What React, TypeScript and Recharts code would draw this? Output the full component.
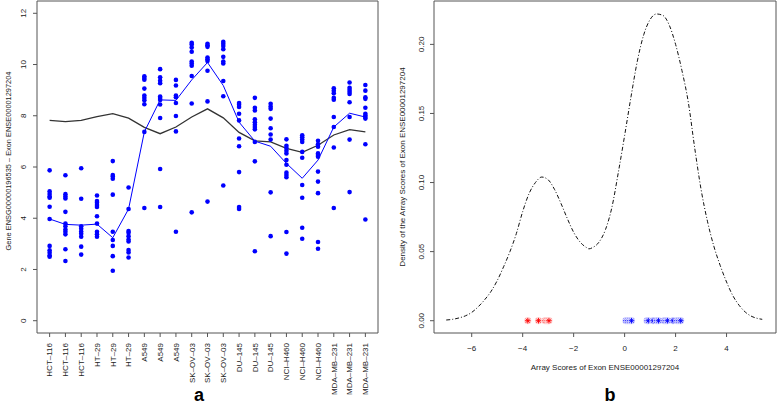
import React from "react";
import {
  ComposedChart,
  Line,
  Scatter,
  XAxis,
  YAxis,
  ReferenceArea,
} from "recharts";

// panel a: cell lines (three arrays each)
const cellLines = [
  "HCT–116", "HCT–116", "HCT–116",
  "HT–29", "HT–29", "HT–29",
  "A549", "A549", "A549",
  "SK–OV–03", "SK–OV–03", "SK–OV–03",
  "DU–145", "DU–145", "DU–145",
  "NCI–H460", "NCI–H460", "NCI–H460",
  "MDA–MB–231", "MDA–MB–231", "MDA–MB–231",
];

const probeValues: number[][] = [
  [5.87, 5.05, 4.95, 4.85, 4.8, 4.45, 3.97, 2.92, 2.75, 2.65, 2.55, 2.5],
  [5.68, 4.94, 4.85, 4.77, 4.25, 3.79, 3.69, 3.56, 3.47, 3.37, 2.79, 2.33],
  [5.95, 4.76, 3.69, 3.59, 3.48, 3.39, 3.28, 2.89, 2.58],
  [4.89, 4.67, 4.6, 4.52, 4.44, 4.08, 3.79, 3.47, 3.37, 3.28],
  [6.23, 5.69, 5.63, 5.54, 4.92, 3.47, 3.15, 2.92, 2.52, 1.95],
  [5.2, 4.36, 3.5, 3.43, 3.3, 3.17, 3.09, 2.76, 2.66, 2.47],
  [9.54, 9.47, 9.41, 9.06, 8.79, 8.7, 8.61, 8.45, 7.37, 4.4],
  [9.82, 9.5, 9.37, 9.27, 8.75, 8.69, 8.62, 8.44, 7.91, 5.92, 4.44],
  [9.4, 9.18, 8.79, 8.72, 8.5, 7.99, 7.39, 3.47],
  [10.85, 10.78, 10.66, 10.5, 10.12, 10.04, 9.95, 9.55, 8.48, 4.23],
  [10.81, 10.75, 10.69, 10.27, 10.21, 10.14, 9.76, 8.56, 4.65],
  [10.89, 10.81, 10.72, 10.6, 10.3, 10.12, 10.04, 9.36, 8.76, 5.28],
  [8.5, 8.43, 8.34, 8.08, 7.82, 7.11, 6.81, 5.8, 4.44, 4.36],
  [8.7, 8.31, 8.21, 7.86, 7.75, 7.65, 7.56, 7.47, 6.98, 6.22, 2.71],
  [8.47, 8.36, 8.27, 7.89, 7.51, 7.27, 7.07, 5.01, 3.3],
  [7.08, 6.83, 6.74, 6.63, 6.53, 6.27, 6.09, 5.78, 5.69, 5.6, 3.46, 2.62],
  [7.24, 7.16, 7.07, 6.98, 6.59, 6.36, 5.3, 4.8, 3.63, 3.2],
  [7.02, 6.89, 6.79, 6.53, 6.47, 6.4, 5.82, 5.43, 4.98, 3.07, 2.81],
  [9.07, 8.98, 8.88, 8.7, 8.63, 7.95, 7.56, 6.76, 4.4],
  [9.3, 9.09, 9.01, 8.93, 8.85, 8.53, 7.95, 7.07, 5.02],
  [9.2, 8.98, 8.72, 8.66, 8.31, 8.08, 8.01, 7.95, 7.89, 6.89, 3.95],
];

const exonLine = [
  3.97, 3.76, 3.73, 3.77, 3.24, 4.36, 7.37, 8.62, 8.6, 9.4, 10.08, 9.18, 7.75,
  7.01, 6.81, 6.14, 5.56, 6.27, 7.56, 8.1, 7.95,
];
const geneLine = [
  7.82, 7.77, 7.82, 7.97, 8.08, 7.91, 7.55, 7.3, 7.56, 7.95, 8.27, 7.92, 7.35,
  7.02, 6.98, 6.73, 6.57, 6.85, 7.25, 7.46, 7.37,
];
const yTicksA = [0, 2, 4, 6, 8, 10, 12];

// panel b: density of array scores
const densityX = [
  -7.0, -6.75, -6.5, -6.25, -6.0, -5.75, -5.5, -5.25, -5.0, -4.75, -4.5, -4.25,
  -4.0, -3.75, -3.5, -3.25, -3.0, -2.75, -2.5, -2.25, -2.0, -1.75, -1.5, -1.4,
  -1.25, -1.0, -0.75, -0.5, -0.25, 0.0, 0.25, 0.5, 0.75, 1.0, 1.25, 1.5, 1.75,
  2.0, 2.25, 2.5, 2.75, 3.0, 3.25, 3.5, 3.75, 4.0, 4.25, 4.5, 4.75, 5.0, 5.25,
  5.4,
];
const densityY = [
  0.0005, 0.001, 0.002, 0.0035, 0.006, 0.01, 0.015, 0.021, 0.029, 0.039, 0.05,
  0.063, 0.079, 0.092, 0.1, 0.104, 0.102, 0.095, 0.085, 0.074, 0.064, 0.057,
  0.053, 0.052, 0.053, 0.057, 0.066, 0.082, 0.107, 0.134, 0.162, 0.188, 0.207,
  0.218, 0.222, 0.221, 0.214, 0.2, 0.181, 0.158, 0.125, 0.095, 0.072, 0.054,
  0.04, 0.028, 0.018, 0.011, 0.006, 0.003, 0.0015, 0.001,
];
const redScores = [-3.8, -3.38, -3.12, -3.05, -3.0, -2.97];
const blueScores = [
  0.05, 0.12, 0.2, 0.27, 0.88, 0.93, 1.12, 1.25, 1.33, 1.55, 1.62, 1.68, 1.9,
  2.05, 2.12, 2.2,
];
const xTicksB = [-6, -4, -2, 0, 2, 4];
const yTicksB = [0, 0.05, 0.1, 0.15, 0.2];

const FONT = "'Liberation Sans', Arial, Helvetica, sans-serif";
const TEXT = "#222";
const FRAME = "#555";

const lineRows = cellLines.map((name, i) => ({
  x: i + 1,
  exon: exonLine[i],
  gene: geneLine[i],
}));
const pointRows = probeValues.flatMap((vals, i) =>
  vals.map((v) => ({ x: i + 1, y: v })),
);
const densityRows = densityX.map((x, i) => ({ x, d: densityY[i] }));
const redRows = redScores.map((x) => ({ x, y: 0 }));
const blueRows = blueScores.map((x) => ({ x, y: 0 }));

const fmtMinus = (v: number, digits: number) =>
  v.toFixed(digits).replace("-", "−");

const Dot = (props: any) => {
  const { cx, cy } = props;
  if (cx == null || cy == null) return null;
  return <circle cx={cx} cy={cy} r={2.3} fill="#0000ff" />;
};

const makeStar = (color: string, halo: string) => (props: any) => {
  const { cx, cy } = props;
  if (cx == null || cy == null) return null;
  const s = 2.8;
  const d = s * 0.72;
  const path = `M${cx - s},${cy}L${cx + s},${cy}M${cx},${cy - s}L${cx},${cy + s}M${cx - d},${cy - d}L${cx + d},${cy + d}M${cx - d},${cy + d}L${cx + d},${cy - d}`;
  return (
    <g>
      <circle cx={cx} cy={cy} r={3.6} fill={halo} />
      <path d={path} stroke={color} strokeWidth={0.9} fill="none" />
    </g>
  );
};

const CatTick = (props: any) => {
  const { x, y, payload } = props;
  const label = cellLines[payload.value - 1] ?? "";
  return (
    <text
      x={x}
      y={y}
      transform={`rotate(-90 ${x} ${y})`}
      textAnchor="end"
      dy="0.35em"
      fontSize={8}
      fontFamily={FONT}
      fill={TEXT}
    >
      {label}
    </text>
  );
};

const RotYTick = (digits: number) => (props: any) => {
  const { x, y, payload } = props;
  return (
    <text
      x={x}
      y={y}
      transform={`rotate(-90 ${x} ${y})`}
      textAnchor="middle"
      fontSize={8}
      fontFamily={FONT}
      fill={TEXT}
    >
      {fmtMinus(payload.value, digits)}
    </text>
  );
};

const NumXTick = (props: any) => {
  const { x, y, payload } = props;
  return (
    <text
      x={x}
      y={y}
      dy="0.71em"
      textAnchor="middle"
      fontSize={8}
      fontFamily={FONT}
      fill={TEXT}
    >
      {fmtMinus(payload.value, 0)}
    </text>
  );
};

export default function App() {
  return (
    <div
      style={{
        position: "absolute",
        left: 0,
        top: 0,
        width: 777,
        height: 406,
        background: "#fff",
        fontFamily: FONT,
      }}
    >
      <div style={{ position: "absolute", left: 0, top: 0 }}>
        <ComposedChart
          width={390}
          height={406}
          data={lineRows}
          margin={{ top: 1, right: 12, bottom: 0, left: 0 }}
        >
          <XAxis
            type="number"
            dataKey="x"
            domain={[0.2, 21.8]}
            ticks={cellLines.map((_, i) => i + 1)}
            interval={0}
            height={73}
            axisLine={false}
            tickSize={4}
            tickMargin={6}
            tickLine={{ stroke: FRAME }}
            tick={<CatTick />}
            allowDataOverflow
          />
          <YAxis
            type="number"
            domain={[-0.48, 12.48]}
            ticks={yTicksA}
            width={37}
            axisLine={false}
            tickSize={4}
            tickMargin={7}
            tickLine={{ stroke: FRAME }}
            tick={RotYTick(0)}
            allowDataOverflow
          />
          <ReferenceArea
            x1={0.2}
            x2={21.8}
            y1={-0.48}
            y2={12.48}
            fill="none"
            stroke={FRAME}
            strokeWidth={1}
            ifOverflow="visible"
          />
          <Scatter
            data={pointRows}
            dataKey="y"
            shape={<Dot />}
            isAnimationActive={false}
          />
          <Line
            dataKey="gene"
            type="linear"
            stroke="#333333"
            strokeWidth={1.3}
            dot={false}
            isAnimationActive={false}
          />
          <Line
            dataKey="exon"
            type="linear"
            stroke="#0000ff"
            strokeWidth={1}
            dot={false}
            isAnimationActive={false}
          />
        </ComposedChart>
      </div>

      <div style={{ position: "absolute", left: 390, top: 0 }}>
        <ComposedChart
          width={387}
          height={406}
          data={densityRows}
          margin={{ top: 1, right: 1, bottom: 0, left: 0 }}
        >
          <XAxis
            type="number"
            dataKey="x"
            domain={[-7.48, 5.94]}
            ticks={xTicksB}
            interval={0}
            height={73}
            axisLine={false}
            tickSize={4}
            tickMargin={8}
            tickLine={{ stroke: FRAME }}
            tick={<NumXTick />}
            allowDataOverflow
          />
          <YAxis
            type="number"
            domain={[-0.0089, 0.2314]}
            ticks={yTicksB}
            width={44}
            axisLine={false}
            tickSize={4}
            tickMargin={6}
            tickLine={{ stroke: FRAME }}
            tick={RotYTick(2)}
            allowDataOverflow
          />
          <ReferenceArea
            x1={-7.48}
            x2={5.94}
            y1={-0.0089}
            y2={0.2314}
            fill="none"
            stroke={FRAME}
            strokeWidth={1}
            ifOverflow="visible"
          />
          <Line
            dataKey="d"
            type="monotone"
            stroke="#111111"
            strokeWidth={1}
            strokeDasharray="4 2 1 2"
            dot={false}
            isAnimationActive={false}
          />
          <Scatter
            data={redRows}
            dataKey="y"
            shape={makeStar("#ff0000", "#ffd6d6")}
            isAnimationActive={false}
          />
          <Scatter
            data={blueRows}
            dataKey="y"
            shape={makeStar("#0000ff", "#d6d6ff")}
            isAnimationActive={false}
          />
        </ComposedChart>
      </div>

      <svg
        width={777}
        height={406}
        style={{ position: "absolute", left: 0, top: 0, pointerEvents: "none" }}
      >
        <text
          x={11}
          y={161}
          transform="rotate(-90 11 161)"
          textAnchor="middle"
          fontSize={7.4}
          fontFamily={FONT}
          fill={TEXT}
        >
          Gene ENSG00000196535 – Exon ENSE00001297204
        </text>
        <text
          x={404.5}
          y={167}
          transform="rotate(-90 404.5 167)"
          textAnchor="middle"
          fontSize={8}
          fontFamily={FONT}
          fill={TEXT}
        >
          Density of the Array Scores of Exon ENSE00001297204
        </text>
        <text
          x={605}
          y={370}
          textAnchor="middle"
          fontSize={8}
          fontFamily={FONT}
          fill={TEXT}
        >
          Array Scores of Exon ENSE00001297204
        </text>
        <text
          x={199}
          y={401}
          textAnchor="middle"
          fontSize={18}
          fontWeight="bold"
          fontFamily={FONT}
          fill="#000"
        >
          a
        </text>
        <text
          x={610}
          y={401}
          textAnchor="middle"
          fontSize={18}
          fontWeight="bold"
          fontFamily={FONT}
          fill="#000"
        >
          b
        </text>
      </svg>
    </div>
  );
}
